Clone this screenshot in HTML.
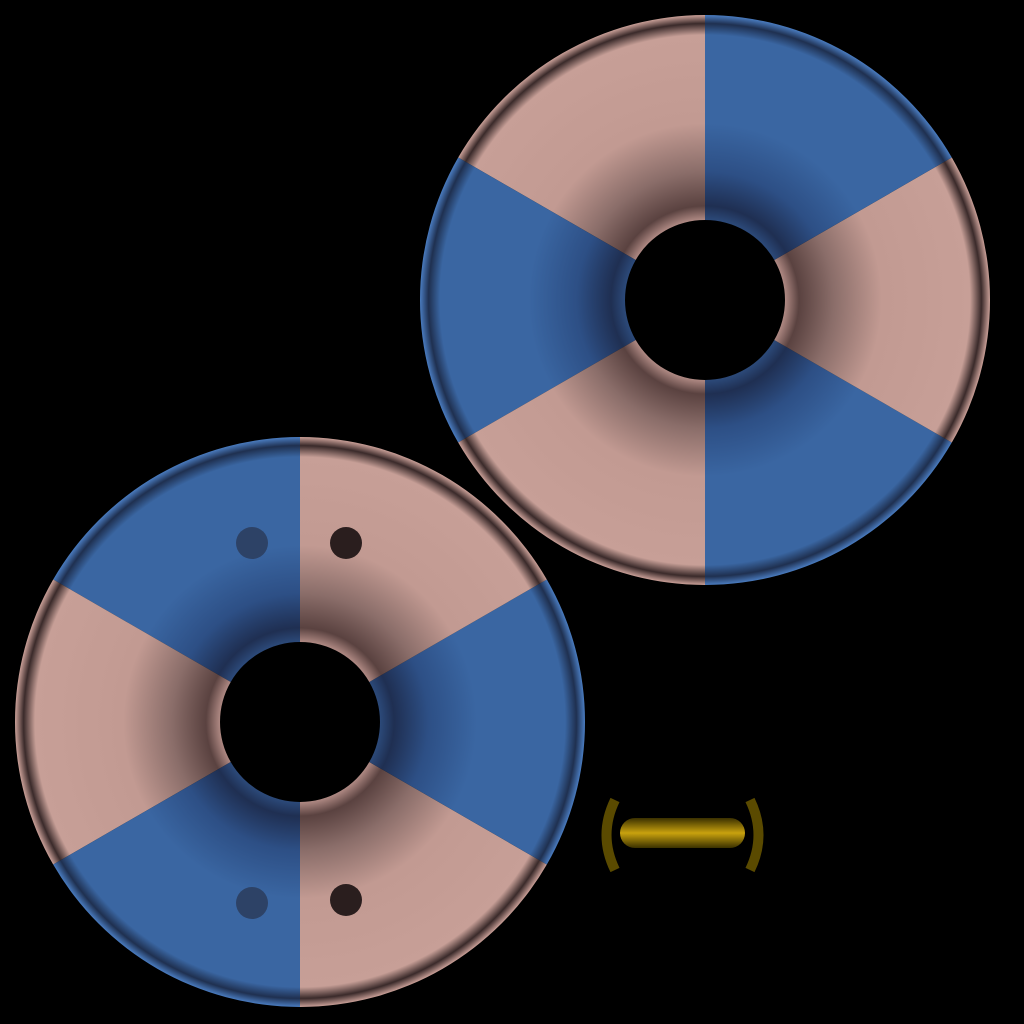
<!DOCTYPE html>
<html><head><meta charset="utf-8"><style>
html,body{margin:0;padding:0;background:#000;width:1024px;height:1024px;overflow:hidden}
</style></head><body>
<svg id="s" width="1024" height="1024" viewBox="0 0 1024 1024" xmlns="http://www.w3.org/2000/svg">
<defs>
<radialGradient id="pinkA" gradientUnits="userSpaceOnUse" cx="705" cy="300" r="285">
<stop offset="0.28" stop-color="#b08a84"/><stop offset="0.33" stop-color="#5a4240"/><stop offset="0.45" stop-color="#8a6d69"/><stop offset="0.62" stop-color="#c29a92"/><stop offset="0.93" stop-color="#c79f97"/><stop offset="0.97" stop-color="#3a2a2a"/><stop offset="1" stop-color="#caa098"/></radialGradient>
<radialGradient id="blueA" gradientUnits="userSpaceOnUse" cx="705" cy="300" r="285">
<stop offset="0.28" stop-color="#2c4a7a"/><stop offset="0.33" stop-color="#1f2f52"/><stop offset="0.45" stop-color="#2d4f85"/><stop offset="0.62" stop-color="#3a66a2"/><stop offset="0.93" stop-color="#3a66a2"/><stop offset="0.97" stop-color="#1f3050"/><stop offset="1" stop-color="#4a7cc0"/></radialGradient>
<radialGradient id="pinkB" gradientUnits="userSpaceOnUse" cx="300" cy="722" r="285">
<stop offset="0.28" stop-color="#b08a84"/><stop offset="0.33" stop-color="#5a4240"/><stop offset="0.45" stop-color="#8a6d69"/><stop offset="0.62" stop-color="#c29a92"/><stop offset="0.93" stop-color="#c79f97"/><stop offset="0.97" stop-color="#3a2a2a"/><stop offset="1" stop-color="#caa098"/></radialGradient>
<radialGradient id="blueB" gradientUnits="userSpaceOnUse" cx="300" cy="722" r="285">
<stop offset="0.28" stop-color="#2c4a7a"/><stop offset="0.33" stop-color="#1f2f52"/><stop offset="0.45" stop-color="#2d4f85"/><stop offset="0.62" stop-color="#3a66a2"/><stop offset="0.93" stop-color="#3a66a2"/><stop offset="0.97" stop-color="#1f3050"/><stop offset="1" stop-color="#4a7cc0"/></radialGradient>
<linearGradient id="gold" x1="0" y1="0" x2="0" y2="1"><stop offset="0" stop-color="#3a3000"/><stop offset="0.5" stop-color="#c9a20e"/><stop offset="1" stop-color="#3a3000"/></linearGradient>
</defs>
<g id="ringA"></g>
<g id="ringB"></g>
<g>
<circle cx="252" cy="543" r="16" fill="#2a3a58" opacity="0.8"/>
<circle cx="346" cy="543" r="16" fill="#2a1e1e"/>
<circle cx="252" cy="903" r="16" fill="#2a3a58" opacity="0.8"/>
<circle cx="346" cy="900" r="16" fill="#2a1e1e"/>
</g>
<g>
<path d="M615 800 Q598 835 615 870" stroke="#5a4a00" stroke-width="10" fill="none"/>
<path d="M750 800 Q767 835 750 870" stroke="#5a4a00" stroke-width="10" fill="none"/>
<rect x="620" y="818" width="125" height="30" rx="15" fill="url(#gold)"/>
</g>
</svg>
<script>
function seg(cx,cy,R,r,a0,a1){
  const rad=a=>a*Math.PI/180;
  const p=(rr,a)=>[cx+rr*Math.cos(rad(a)),cy-rr*Math.sin(rad(a))];
  const [x1,y1]=p(R,a0),[x2,y2]=p(R,a1),[x3,y3]=p(r,a1),[x4,y4]=p(r,a0);
  return `M${x1} ${y1} A${R} ${R} 0 0 0 ${x2} ${y2} L${x3} ${y3} A${r} ${r} 0 0 1 ${x4} ${y4} Z`;
}
function ring(id,cx,cy,R,r,blueStarts,pg,bg){
  const g=document.getElementById(id);
  for(let a=-90;a<270;a+=60){
    const path=document.createElementNS('http://www.w3.org/2000/svg','path');
    const blue=blueStarts.includes(((a%360)+360)%360);
    path.setAttribute('d',seg(cx,cy,R,r,a,a+60));
    path.setAttribute('fill',blue?bg:pg);
    
    
    g.appendChild(path);
  }
}
ring('ringA',705,300,285,80,[30,150,270],'url(#pinkA)','url(#blueA)');
ring('ringB',300,722,285,80,[90,330,210],'url(#pinkB)','url(#blueB)');
</script>
</body></html>
